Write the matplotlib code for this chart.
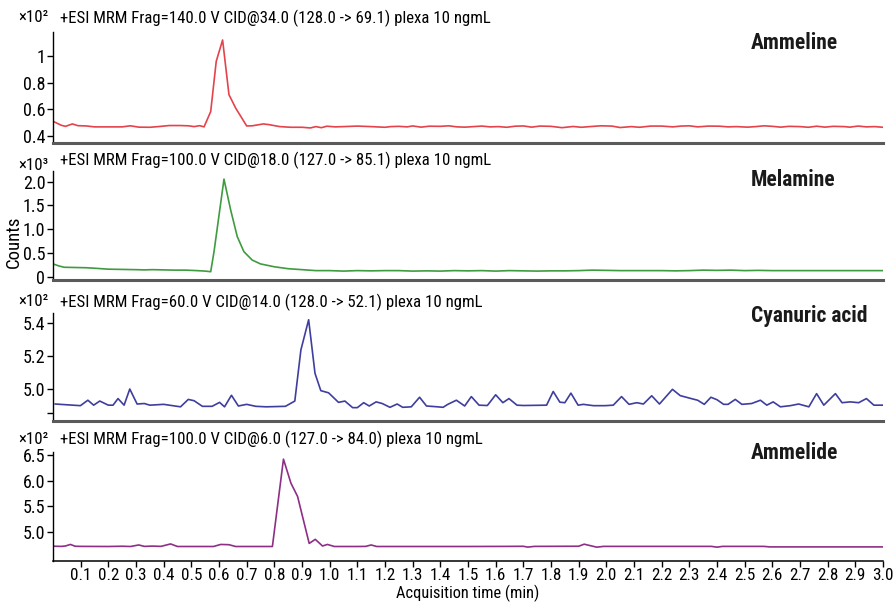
import matplotlib
matplotlib.use("Agg")
import matplotlib.pyplot as plt
from matplotlib import font_manager

_names = {f.name for f in font_manager.fontManager.ttflist}
_pref = ['Roboto Condensed', 'Liberation Sans Narrow', 'PT Sans Narrow', 'Fira Sans Condensed',
         'IBM Plex Sans Condensed', 'Archivo Narrow', 'Barlow Semi Condensed', 'Asap Condensed']
FONT = next((p for p in _pref if p in _names), 'Liberation Sans')
CONDENSED = FONT != 'Liberation Sans'
plt.rcParams['font.family'] = [FONT, 'DejaVu Sans']
if CONDENSED:
    FS_TICK, FS_XTICK, FS_HEAD, FS_LAB, FS_XLAB, FS_COUNTS = 13, 12.3, 12.1, 15.5, 11.8, 13.5
else:
    FS_TICK, FS_XTICK, FS_HEAD, FS_LAB, FS_XLAB, FS_COUNTS = 10.5, 9.5, 9.8, 13, 10.5, 12

# ---------------- data ----------------
ammeline_t = [0.005, 0.03, 0.045, 0.07, 0.09, 0.12, 0.15, 0.2, 0.25, 0.28, 0.31, 0.35, 0.38, 0.42,
              0.46, 0.49, 0.51, 0.53, 0.546, 0.57, 0.59, 0.613, 0.636, 0.66, 0.70, 0.72, 0.76, 0.78,
              0.82, 0.86, 0.9, 0.93, 0.95, 0.97, 0.99, 1.02, 1.05, 1.1, 1.15, 1.2, 1.22, 1.25, 1.28,
              1.3, 1.33, 1.36, 1.4, 1.43, 1.46, 1.49, 1.52, 1.55, 1.58, 1.61, 1.64, 1.67, 1.70, 1.73,
              1.76, 1.8, 1.84, 1.88, 1.91, 1.94, 1.98, 2.02, 2.05, 2.09, 2.12, 2.16, 2.2, 2.24, 2.27,
              2.3, 2.33, 2.37, 2.41, 2.44, 2.47, 2.51, 2.54, 2.57, 2.6, 2.63, 2.66, 2.7, 2.73, 2.76,
              2.79, 2.82, 2.86, 2.88, 2.91, 2.94, 2.97, 3.0]
ammeline_v = [0.505, 0.48, 0.472, 0.49, 0.477, 0.475, 0.468, 0.468, 0.468, 0.476, 0.466, 0.465, 0.47,
              0.478, 0.478, 0.476, 0.47, 0.477, 0.468, 0.583, 0.96, 1.12, 0.71, 0.61, 0.475, 0.476,
              0.49, 0.485, 0.47, 0.465, 0.465, 0.46, 0.47, 0.462, 0.473, 0.468, 0.47, 0.474, 0.47,
              0.465, 0.47, 0.472, 0.468, 0.475, 0.466, 0.473, 0.472, 0.476, 0.468, 0.466, 0.47, 0.474,
              0.468, 0.47, 0.465, 0.473, 0.475, 0.466, 0.474, 0.472, 0.462, 0.471, 0.465, 0.47, 0.476,
              0.474, 0.463, 0.47, 0.465, 0.474, 0.474, 0.468, 0.474, 0.476, 0.468, 0.474, 0.473, 0.468,
              0.47, 0.466, 0.47, 0.476, 0.472, 0.466, 0.472, 0.47, 0.465, 0.473, 0.466, 0.472, 0.47,
              0.466, 0.474, 0.468, 0.47, 0.465]

melamine_t = [0.005, 0.02, 0.04, 0.08, 0.12, 0.15, 0.2, 0.25, 0.3, 0.33, 0.36, 0.4, 0.44, 0.48, 0.52,
              0.55, 0.57, 0.582, 0.618, 0.642, 0.666, 0.69, 0.72, 0.75, 0.8, 0.85, 0.9, 0.95, 1.0,
              1.05, 1.1, 1.15, 1.2, 1.25, 1.3, 1.35, 1.4, 1.45, 1.5, 1.55, 1.6, 1.65, 1.7, 1.75, 1.8,
              1.85, 1.9, 1.95, 2.0, 2.05, 2.1, 2.15, 2.2, 2.25, 2.3, 2.35, 2.4, 2.45, 2.5, 2.55, 2.6,
              2.65, 2.7, 2.75, 2.8, 2.85, 2.9, 2.95, 3.0]
melamine_v = [0.27, 0.24, 0.21, 0.205, 0.2, 0.19, 0.17, 0.165, 0.16, 0.155, 0.16, 0.155, 0.15, 0.15,
              0.14, 0.13, 0.117, 0.535, 2.05, 1.41, 0.85, 0.535, 0.36, 0.28, 0.22, 0.18, 0.16, 0.14,
              0.14, 0.13, 0.14, 0.135, 0.14, 0.14, 0.13, 0.135, 0.13, 0.14, 0.135, 0.14, 0.13, 0.14,
              0.135, 0.13, 0.135, 0.135, 0.14, 0.15, 0.145, 0.14, 0.14, 0.14, 0.14, 0.135, 0.14, 0.15,
              0.145, 0.15, 0.14, 0.145, 0.14, 0.14, 0.14, 0.14, 0.14, 0.14, 0.14, 0.14, 0.14]

cyanuric_t = [0.008, 0.099, 0.126, 0.147, 0.169, 0.20, 0.217, 0.235, 0.257, 0.2775, 0.304, 0.33,
              0.35, 0.40, 0.461, 0.489, 0.51, 0.54, 0.575, 0.602, 0.62, 0.645, 0.67, 0.70, 0.733,
              0.77, 0.84, 0.874, 0.896, 0.924, 0.947, 0.968, 0.996, 1.032, 1.055, 1.083, 1.10, 1.123,
              1.143, 1.168, 1.19, 1.218, 1.244, 1.264, 1.295, 1.325, 1.35, 1.39, 1.41, 1.427, 1.458,
              1.488, 1.512, 1.54, 1.57, 1.60, 1.626, 1.648, 1.677, 1.70, 1.784, 1.808, 1.832, 1.85,
              1.872, 1.898, 1.917, 1.953, 1.995, 2.025, 2.055, 2.082, 2.11, 2.134, 2.164, 2.192,
              2.239, 2.267, 2.30, 2.33, 2.354, 2.378, 2.40, 2.424, 2.44, 2.466, 2.49, 2.525, 2.557,
              2.58, 2.603, 2.629, 2.665, 2.695, 2.732, 2.76, 2.786, 2.828, 2.852, 2.882, 2.912, 2.94,
              2.967, 3.0]
cyanuric_v = [4.907, 4.897, 4.93, 4.90, 4.925, 4.90, 4.90, 4.94, 4.90, 4.998, 4.907, 4.91, 4.90,
              4.905, 4.89, 4.935, 4.927, 4.893, 4.893, 4.917, 4.89, 4.96, 4.895, 4.905, 4.893, 4.89,
              4.893, 4.925, 5.235, 5.418, 5.093, 4.988, 4.975, 4.917, 4.925, 4.885, 4.885, 4.915,
              4.895, 4.92, 4.91, 4.887, 4.907, 4.887, 4.89, 4.948, 4.895, 4.89, 4.887, 4.905, 4.93,
              4.895, 4.952, 4.90, 4.898, 4.963, 4.915, 4.94, 4.90, 4.898, 4.90, 4.983, 4.918, 4.915,
              4.973, 4.90, 4.905, 4.897, 4.897, 4.90, 4.952, 4.905, 4.915, 4.907, 4.957, 4.907,
              4.996, 4.958, 4.943, 4.93, 4.905, 4.948, 4.933, 4.905, 4.905, 4.935, 4.905, 4.91,
              4.93, 4.90, 4.92, 4.89, 4.897, 4.907, 4.89, 4.97, 4.90, 4.97, 4.915, 4.92, 4.915, 4.94,
              4.90, 4.90]

ammelide_t = [0.005, 0.03, 0.045, 0.063, 0.08, 0.1, 0.2, 0.25, 0.28, 0.31, 0.33, 0.36, 0.39, 0.425,
              0.45, 0.5, 0.58, 0.606, 0.636, 0.66, 0.7, 0.793, 0.833, 0.86, 0.884, 0.926, 0.948,
              0.974, 0.992, 1.017, 1.1, 1.13, 1.15, 1.17, 1.3, 1.5, 1.64, 1.70, 1.716, 1.74, 1.9,
              1.92, 1.965, 1.99, 2.2, 2.38, 2.40, 2.42, 2.57, 2.59, 2.8, 3.0]
ammelide_v = [4.715, 4.712, 4.72, 4.75, 4.715, 4.712, 4.71, 4.715, 4.71, 4.74, 4.712, 4.718, 4.712,
              4.76, 4.71, 4.71, 4.71, 4.75, 4.745, 4.71, 4.71, 4.71, 6.42, 5.95, 5.69, 4.77, 4.85,
              4.72, 4.75, 4.71, 4.71, 4.712, 4.74, 4.71, 4.71, 4.71, 4.712, 4.714, 4.698, 4.712,
              4.715, 4.755, 4.697, 4.712, 4.712, 4.712, 4.697, 4.712, 4.712, 4.702, 4.702, 4.702]

compounds = ["Ammeline", "Melamine", "Cyanuric acid", "Ammelide"]
headers = ["+ESI MRM Frag=140.0 V CID@34.0 (128.0 -> 69.1) plexa 10 ngmL",
           "+ESI MRM Frag=100.0 V CID@18.0 (127.0 -> 85.1) plexa 10 ngmL",
           "+ESI MRM Frag=60.0 V CID@14.0 (128.0 -> 52.1) plexa 10 ngmL",
           "+ESI MRM Frag=100.0 V CID@6.0 (127.0 -> 84.0) plexa 10 ngmL"]
multipliers = ["×10²", "×10³", "×10²", "×10²"]
yticks = [[0.4, 0.6, 0.8, 1.0], [0, 0.5, 1.0, 1.5, 2.0], [4.855, 5.0, 5.2, 5.4], [5.0, 5.5, 6.0, 6.5]]
ytick_labels = [["0.4", "0.6", "0.8", "1"], ["0", "0.5", "1.0", "1.5", "2.0"],
                ["", "5.0", "5.2", "5.4"], ["5.0", "5.5", "6.0", "6.5"]]
ylims = [(0.347, 1.18), (-0.056, 2.22), (4.804, 5.459), (4.426, 6.56)]
xticks = [0.1, 0.2, 0.3, 0.4, 0.5, 0.6, 0.7, 0.8, 0.9, 1.0, 1.1, 1.2, 1.3, 1.4, 1.5, 1.6, 1.7,
          1.8, 1.9, 2.0, 2.1, 2.2, 2.3, 2.4, 2.5, 2.6, 2.7, 2.8, 2.9, 3.0]
xlabel = "Acquisition time (min)"
ylabel = "Counts"

series = [(ammeline_t, ammeline_v), (melamine_t, melamine_v),
          (cyanuric_t, cyanuric_v), (ammelide_t, ammelide_v)]
colors = ["#e4434b", "#3f9b3f", "#3e3e9e", "#8d2f86"]

# ---------------- layout ----------------
W, H = 895, 602
fig = plt.figure(figsize=(W / 100, H / 100), dpi=100)

panels_px = [(32, 143), (171, 280), (313, 421), (452, 561)]
header_y = [18, 160, 302, 439]
mult_y = [18, 165, 302, 439]
label_y = [43, 180, 316, 453]
left_px, right_px = 53, 883

for i in range(4):
    top, bot = panels_px[i]
    ax = fig.add_axes([left_px / W, 1 - bot / H, (right_px - left_px) / W, (bot - top) / H])
    t, v = series[i]
    ax.plot(t, v, color=colors[i], lw=1.2)
    ax.set_xlim(0, 3.0)
    ax.set_ylim(*ylims[i])
    ax.spines['top'].set_visible(False)
    ax.spines['right'].set_visible(False)
    ax.spines['left'].set_linewidth(1.0)
    ax.set_yticks(yticks[i])
    ax.set_yticklabels(ytick_labels[i])
    ax.tick_params(axis='y', direction='out', length=4, width=1, pad=1.5, labelsize=FS_TICK)
    if i < 3:
        ax.spines['bottom'].set_color('#5a5a5a')
        ax.spines['bottom'].set_linewidth(2.2)
        ax.set_xticks([])
    else:
        ax.spines['bottom'].set_linewidth(1.1)
        ax.set_xticks(xticks)
        ax.set_xticklabels([f"{x:.1f}" for x in xticks])
        ax.tick_params(axis='x', direction='out', length=4, width=1, pad=1, labelsize=FS_XTICK)
    fig.text(60 / W, 1 - header_y[i] / H, headers[i], fontsize=FS_HEAD, va='center', ha='left')
    fig.text(18 / W, 1 - mult_y[i] / H, multipliers[i], fontsize=FS_HEAD, va='center', ha='left')
    fig.text(751 / W, 1 - label_y[i] / H, compounds[i], fontsize=FS_LAB, fontweight='bold',
             va='center', ha='left', color='#1a1a1a')

fig.text(((left_px + right_px) / 2) / W, 0.5 / H, xlabel, fontsize=FS_XLAB,
         va='bottom', ha='center')
fig.text(14 / W, 1 - 242 / H, ylabel, rotation=90, fontsize=FS_COUNTS, va='center', ha='center')

fig.savefig("out.png", dpi=100)
